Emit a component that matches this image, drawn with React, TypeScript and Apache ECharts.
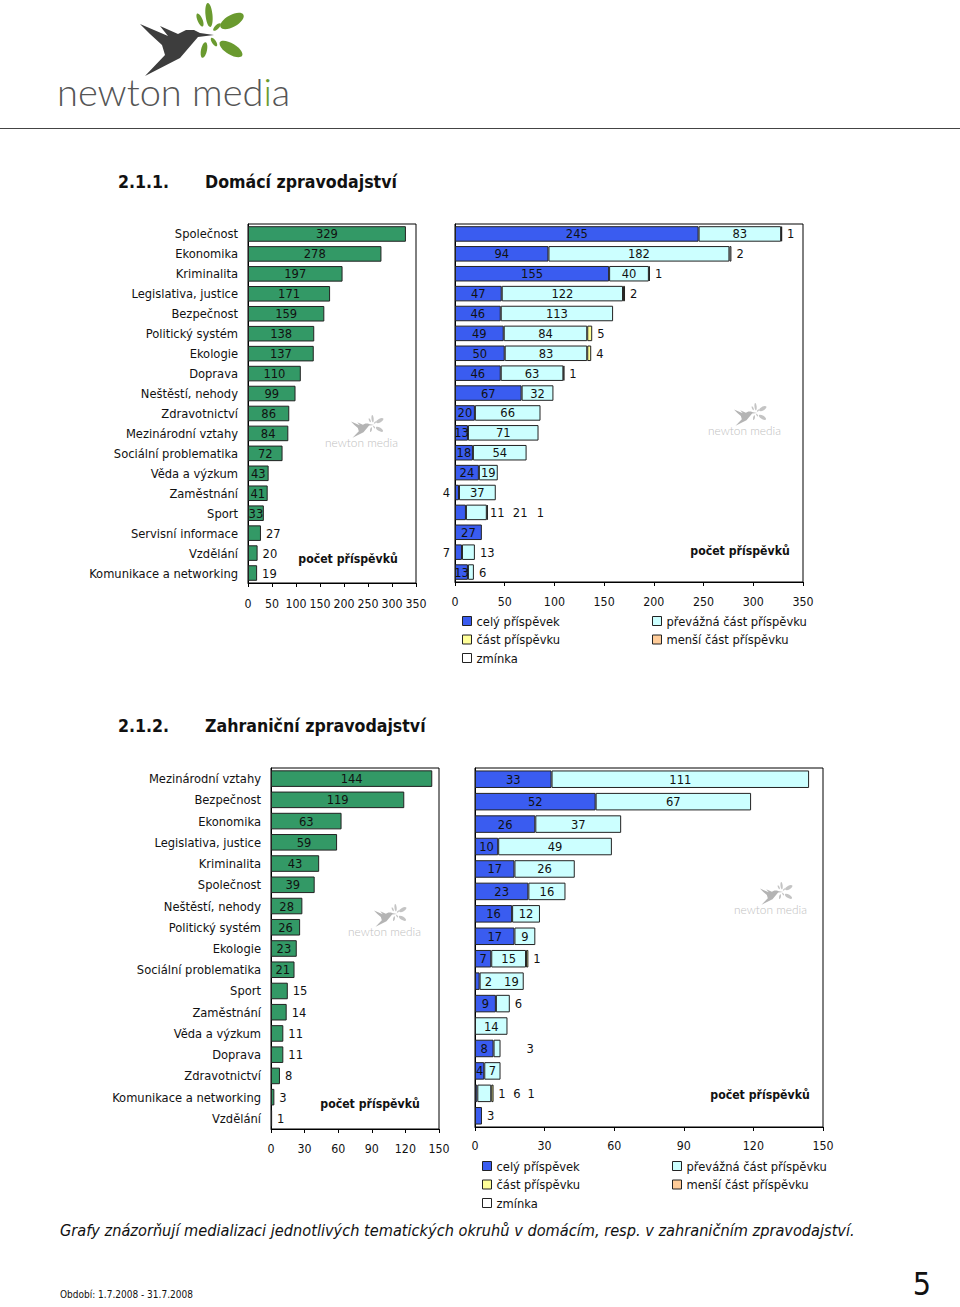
import React, { useEffect, useRef } from "react";
import * as echarts from "echarts";

const FONT = "'DejaVu Sans Condensed', 'DejaVu Sans', sans-serif";

// ---------- DATA ----------
const domCategories = [
  "Společnost", "Ekonomika", "Kriminalita", "Legislativa, justice", "Bezpečnost",
  "Politický systém", "Ekologie", "Doprava", "Neštěstí, nehody", "Zdravotnictví",
  "Mezinárodní vztahy", "Sociální problematika", "Věda a výzkum", "Zaměstnání",
  "Sport", "Servisní informace", "Vzdělání", "Komunikace a networking",
];
const domTotals = [329, 278, 197, 171, 159, 138, 137, 110, 99, 86, 84, 72, 43, 41, 33, 27, 20, 19];
const domFull = [245, 94, 155, 47, 46, 49, 50, 46, 67, 20, 13, 18, 24, 4, 11, 27, 7, 13];
const domMajor = [83, 182, 40, 122, 113, 84, 83, 63, 32, 66, 71, 54, 19, 37, 21, 0, 13, 6];
const domPart = [0, 0, 0, 2, 0, 5, 4, 0, 0, 0, 0, 0, 0, 0, 0, 0, 0, 0];
const domMinor = [0, 0, 0, 0, 0, 0, 0, 0, 0, 0, 0, 0, 0, 0, 0, 0, 0, 0];
const domMention = [1, 2, 1, 0, 0, 0, 0, 1, 0, 0, 0, 0, 0, 0, 1, 0, 0, 0];

const forCategories = [
  "Mezinárodní vztahy", "Bezpečnost", "Ekonomika", "Legislativa, justice", "Kriminalita",
  "Společnost", "Neštěstí, nehody", "Politický systém", "Ekologie", "Sociální problematika",
  "Sport", "Zaměstnání", "Věda a výzkum", "Doprava", "Zdravotnictví",
  "Komunikace a networking", "Vzdělání",
];
const forTotals = [144, 119, 63, 59, 43, 39, 28, 26, 23, 21, 15, 14, 11, 11, 8, 3, 1];
const forStackCategories = forCategories.slice(0, 16);
const forFull = [33, 52, 26, 10, 17, 23, 16, 17, 7, 2, 9, 0, 8, 4, 1, 3];
const forMajor = [111, 67, 37, 49, 26, 16, 12, 9, 15, 19, 6, 14, 3, 7, 6, 0];
const forPart = [0, 0, 0, 0, 0, 0, 0, 0, 1, 0, 0, 0, 0, 0, 1, 0];
const forMinor = [0, 0, 0, 0, 0, 0, 0, 0, 0, 0, 0, 0, 0, 0, 0, 0];
const forMention = [0, 0, 0, 0, 0, 0, 0, 0, 0, 0, 0, 0, 0, 0, 0, 0];

const seriesNames = [
  "celý příspěvek", "převážná část příspěvku", "část příspěvku", "menší část příspěvku", "zmínka",
];
const seriesColors = ["#3a5cf0", "#ccffff", "#ffff99", "#ffcc99", "#ffffff"];

// label placement overrides ("row-series": [position, offsetX])
const domPlace: Record<string, [string, number]> = {
  "0-4": ["right", 0], "1-4": ["right", 0], "2-4": ["right", 0], "3-2": ["right", 0],
  "5-2": ["right", 0], "6-2": ["right", 0], "7-4": ["right", 0], "13-0": ["left", 0],
  "14-0": ["right", 19], "14-1": ["right", 21], "14-4": ["right", 44],
  "16-0": ["left", 0], "16-1": ["right", 0], "17-1": ["right", 0],
};
const forPlace: Record<string, [string, number]> = {
  "8-2": ["right", 0], "9-0": ["right", 0], "9-1": ["insideRight", 0], "10-1": ["right", 0],
  "12-1": ["right", 21], "14-0": ["right", 16], "14-1": ["right", 17], "14-2": ["right", 29],
  "15-0": ["right", 0],
};

// ---------- HELPERS ----------
const BORDER = "#222";
const TXT = "#111";
const LBL = 12.8;

function greenSeries(values: number[], threshold: number, xi: number, yi: number) {
  return {
    type: "bar", xAxisIndex: xi, yAxisIndex: yi, barCategoryGap: "22%",
    itemStyle: { color: "#339966", borderColor: BORDER, borderWidth: 1 },
    label: { show: true, color: TXT, fontSize: LBL, fontFamily: FONT },
    data: values.map((v) => ({
      value: v,
      label: { position: v >= threshold ? "inside" : "right" },
    })),
  };
}

function stackSeries(arrays: number[][], place: Record<string, [string, number]>, xi: number, yi: number, stack: string) {
  return arrays.map((arr, si) => ({
    type: "bar", name: seriesNames[si], stack, xAxisIndex: xi, yAxisIndex: yi,
    barCategoryGap: "22%",
    itemStyle: { color: seriesColors[si], borderColor: BORDER, borderWidth: 1 },
    label: { show: true, color: TXT, fontSize: LBL, fontFamily: FONT },
    data: arr.map((v, ri) => {
      if (!v) return "-";
      const p = place[ri + "-" + si];
      return {
        value: v,
        label: p ? { position: p[0], offset: [p[1], 0] } : { position: "inside" },
      };
    }),
  }));
}

function valueAxis(gi: number, max: number, interval: number, margin: number) {
  return {
    type: "value", gridIndex: gi, min: 0, max, interval,
    splitLine: { show: false },
    axisLine: { show: true, lineStyle: { color: "#000" } },
    axisTick: { show: true, length: 4, lineStyle: { color: "#000" } },
    axisLabel: { color: TXT, fontSize: 12.3, fontFamily: FONT, margin },
  };
}

function catAxis(gi: number, data: string[], showLabels: boolean) {
  return {
    type: "category", gridIndex: gi, data, inverse: true,
    axisLine: { show: true, lineStyle: { color: "#000" } },
    axisTick: { show: false },
    axisLabel: { show: showLabels, color: TXT, fontSize: LBL, fontFamily: FONT, margin: 10 },
  };
}

function logo(x: number, y: number, s: number, faded: boolean) {
  const dark = faded ? "#b4b4b4" : "#3d3d3d";
  const green = faded ? "#c4c4c4" : "#6a9a2f";
  const txt = faded ? "#c0c0c0" : "#555555";
  const petals = [
    [152, 15, 3.5, 12, 0.1], [175, 21, 13, 6, 0.5], [174, 49, 13, 5.5, -0.55],
    [147, 50, 3, 8, -0.2], [143, 20, 2.5, 7, 0.4], [157, 42, 2, 5, 0.6], [160, 27, 2, 5, -0.8],
  ];
  const fs = 38;
  return {
    type: "group", x, y, scaleX: s, scaleY: s, silent: true,
    children: [
      {
        type: "polygon",
        shape: {
          points: [[83, 24], [111, 36], [103, 26], [121, 34], [129, 30], [137, 30], [143, 33],
            [157, 35], [141, 37], [135, 44], [123, 58], [88, 76], [108, 55], [105, 45], [93, 34]],
        },
        style: { fill: dark },
      },
      ...petals.map((p) => ({
        type: "ellipse", x: p[0], y: p[1], rotation: p[4],
        shape: { cx: 0, cy: 0, rx: p[2], ry: p[3] }, style: { fill: green },
      })),
      {
        type: "text", x: 0, y: 91,
        style: {
          text: faded ? "newton media" : "{a|newton med}{b|i}{a|a}",
          fill: txt, font: "300 " + fs + "px Lato, 'DejaVu Sans', sans-serif",
          verticalAlign: "middle", align: "left",
          rich: {
            a: { fill: txt, color: txt, fontSize: fs, fontFamily: "Lato", fontWeight: 300 },
            b: { fill: green, color: green, fontSize: fs, fontFamily: "Lato", fontWeight: 300 },
          },
        },
      },
    ],
  };
}

function text(x: number, y: number, t: string, size: number, opts: any = {}) {
  return {
    type: "text", x, y, silent: true,
    style: {
      text: t, fill: TXT, fontSize: size, fontFamily: FONT,
      verticalAlign: opts.valign || "middle", align: opts.align || "left",
      fontWeight: opts.bold ? "bold" : "normal", fontStyle: opts.italic ? "italic" : "normal",
    },
  };
}

export default function App() {
  const ref = useRef<HTMLDivElement>(null);
  useEffect(() => {
    if (!ref.current) return;
    const chart = echarts.init(ref.current, undefined, { renderer: "svg" });
    const legendCommon = {
      orient: "vertical", icon: "rect", itemWidth: 9, itemHeight: 9, itemGap: 4.5,
      padding: 0, selectedMode: false,
      itemStyle: { borderColor: BORDER, borderWidth: 1 },
      textStyle: { fontSize: LBL, fontFamily: FONT, color: TXT, lineHeight: 14 },
    };
    const gridCommon = { show: true, borderColor: "#000", borderWidth: 1, containLabel: false };
    chart.setOption({
      animation: false,
      backgroundColor: "#ffffff",
      textStyle: { fontFamily: FONT },
      grid: [
        { ...gridCommon, left: 248, top: 224, width: 168, height: 359 },
        { ...gridCommon, left: 455, top: 224, width: 348, height: 358 },
        { ...gridCommon, left: 271, top: 768, width: 168, height: 361 },
        { ...gridCommon, left: 475, top: 768, width: 348, height: 359 },
      ],
      xAxis: [
        valueAxis(0, 350, 50, 15),
        valueAxis(1, 350, 50, 14),
        valueAxis(2, 150, 30, 14),
        valueAxis(3, 150, 30, 13),
      ],
      yAxis: [
        catAxis(0, domCategories, true),
        catAxis(1, domCategories, false),
        catAxis(2, forCategories, true),
        catAxis(3, forStackCategories, false),
      ],
      legend: [
        { ...legendCommon, data: [seriesNames[0], seriesNames[2], seriesNames[4]], left: 462, top: 614 },
        { ...legendCommon, data: [seriesNames[1], seriesNames[3]], left: 652, top: 614 },
        { ...legendCommon, data: [seriesNames[0], seriesNames[2], seriesNames[4]], left: 482, top: 1159 },
        { ...legendCommon, data: [seriesNames[1], seriesNames[3]], left: 672, top: 1159 },
      ],
      series: [
        greenSeries(domTotals, 30, 0, 0),
        ...stackSeries([domFull, domMajor, domPart, domMinor, domMention], domPlace, 1, 1, "dom"),
        greenSeries(forTotals, 20, 2, 2),
        ...stackSeries([forFull, forMajor, forPart, forMinor, forMention], forPlace, 3, 3, "for"),
      ],
      graphic: [
        logo(57, 0, 1, false),
        { type: "line", silent: true, shape: { x1: 0, y1: 128.5, x2: 960, y2: 128.5 }, style: { stroke: "#444", lineWidth: 1 } },
        text(118, 182, "2.1.1.", 17.6, { bold: true }),
        text(205, 182, "Domácí zpravodajství", 17.6, { bold: true }),
        text(118, 726, "2.1.2.", 17.6, { bold: true }),
        text(205, 726, "Zahraniční zpravodajství", 17.6, { bold: true }),
        logo(325, 414, 0.313, true),
        logo(708, 402, 0.313, true),
        logo(348, 903, 0.313, true),
        logo(734, 881, 0.313, true),
        text(348, 559, "počet příspěvků", 12.2, { bold: true, align: "center" }),
        text(740, 551, "počet příspěvků", 12.2, { bold: true, align: "center" }),
        text(370, 1104, "počet příspěvků", 12.2, { bold: true, align: "center" }),
        text(760, 1095, "počet příspěvků", 12.2, { bold: true, align: "center" }),
        text(60, 1230, "Grafy znázorňují medializaci jednotlivých tematických okruhů v domácím, resp. v zahraničním zpravodajství.", 16.2, { italic: true }),
        text(60, 1294, "Období: 1.7.2008 - 31.7.2008", 10),
        text(922, 1284, "5", 32, { align: "center" }),
      ],
    });
    return () => chart.dispose();
  }, []);
  return (
    <div
      ref={ref}
      style={{ position: "absolute", left: 0, top: 0, width: 960, height: 1307, background: "#fff" }}
    />
  );
}
